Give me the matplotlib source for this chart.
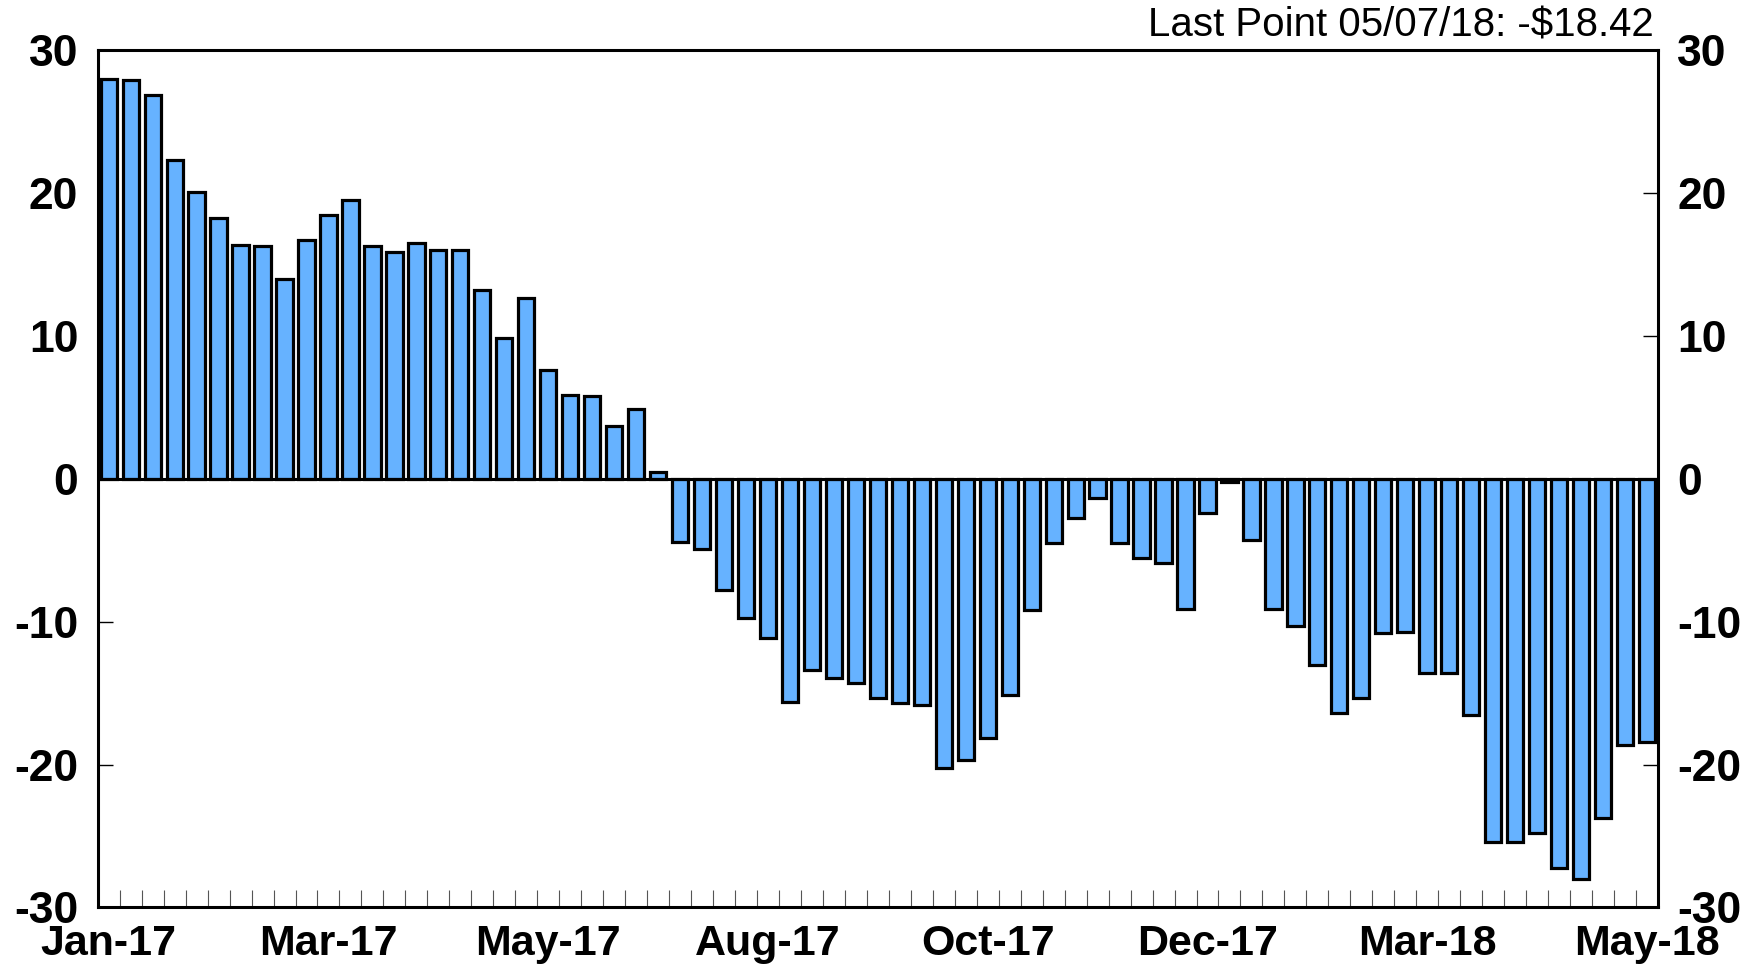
import numpy as np
import matplotlib.pyplot as plt
from matplotlib.ticker import FixedLocator

# Weekly values, Jan-17 .. 05/07/18
values = [28.0, 27.9, 26.9, 22.3, 20.1, 18.3, 16.4, 16.3, 14.0, 16.7,
          18.5, 19.5, 16.3, 15.9, 16.5, 16.0, 16.0, 13.2, 9.9, 12.7,
          7.6, 5.9, 5.8, 3.7, 4.9, 0.5,
          -4.4, -4.9, -7.8, -9.7, -11.1, -15.6, -13.4, -13.9, -14.3, -15.3,
          -15.7, -15.8, -20.2, -19.7, -18.1, -15.1, -9.2, -4.5, -2.7, -1.3,
          -4.5, -5.5, -5.9, -9.1, -2.4, -0.2, -4.3, -9.1, -10.3, -13.0,
          -16.4, -15.3, -10.8, -10.7, -13.6, -13.6, -16.5, -25.4, -25.4, -24.8,
          -27.2, -28.0, -23.7, -18.6, -18.42]
tick_labels = ["Jan-17", "Mar-17", "May-17", "Aug-17", "Oct-17",
               "Dec-17", "Mar-18", "May-18"]
tick_index = [0, 10, 20, 30, 40, 50, 60, 70]
last_note = "Last Point 05/07/18: -$18.42"

plt.rcParams['font.family'] = ['Liberation Sans', 'DejaVu Sans']
plt.rcParams['axes.unicode_minus'] = False

x = np.arange(len(values))

fig = plt.figure(figsize=(17.61, 9.71), dpi=100)
ax = fig.add_axes([0.0555, 0.0654, 0.886, 0.8826])

ax.bar(x, values, width=0.74, color='#66B2FF', edgecolor='black',
       linewidth=2.3, zorder=2)
ax.axhline(0, color='black', linewidth=2.2, zorder=3)

ax.set_xlim(-0.5, len(values) - 0.5)
ax.set_ylim(-30, 30)
ax.set_yticks(np.arange(-30, 31, 10))

ax.set_xticks(tick_index)
ax.set_xticklabels(tick_labels)
ax.xaxis.set_minor_locator(FixedLocator(x[:-1] + 0.5))

for s in ax.spines.values():
    s.set_linewidth(2.2)

ax.tick_params(axis='x', which='major', length=0, pad=12, labelsize=31)
ax.tick_params(axis='x', which='minor', direction='in', length=12,
               width=0.8, color='#555555', top=False)
ax.tick_params(axis='y', which='major', direction='in', length=11,
               width=1.0, labelsize=32, left=True, right=True,
               labelleft=True, labelright=True, pad=14)
for lab in ax.get_xticklabels() + ax.get_yticklabels():
    lab.set_fontweight('bold')
for t in ax.yaxis.get_major_ticks():
    t.label2.set_fontweight('bold')
    t.label2.set_fontsize(32)

fig.text(0.939, 0.962, last_note, ha='right', va='baseline', fontsize=29)

plt.savefig("out.png", dpi=100)
